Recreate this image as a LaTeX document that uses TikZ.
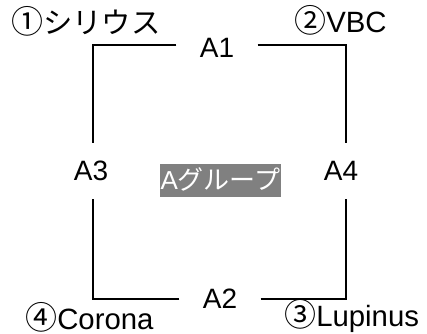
\documentclass[tikz,border=0pt]{standalone}
\usepackage{fontspec}
\setmainfont{Liberation Sans}
\newfontfamily\cjk{Noto Sans CJK JP}
\definecolor{grpgray}{RGB}{128,128,128}
\newcommand{\circnum}[1]{{\cjk\fontsize{24}{26}\selectfont #1}}
\begin{document}
\begin{tikzpicture}[x=0.75pt,y=-0.75pt,
  edge/.style={draw=black,line width=1.6pt},
  lab/.style={font=\fontsize{21}{25}\selectfont,inner xsep=17.5pt,inner ysep=13pt,text height=15pt,text depth=0pt},
  corner/.style={font=\fontsize{22}{25}\selectfont,inner sep=0pt,anchor=base west},
  grp/.style={fill=grpgray,text=white,font=\fontsize{19.5}{22}\selectfont,inner sep=0pt,minimum width=90.75pt,minimum height=24.75pt,text height=13pt,text depth=0pt}]
\useasboundingbox (0,0) rectangle (427,334);
\coordinate (c1) at (93,45);
\coordinate (c2) at (346,45);
\coordinate (c3) at (93,299);
\coordinate (c4) at (346,299);
\node[lab] (A1) at (217,48) {A1};
\node[lab] (A2) at (220,298) {A2};
\node[lab] (A3) at (91,171) {A3};
\node[lab] (A4) at (341,171) {A4};
\node[grp] (G) at (220.5,180.5) {A{\cjk グループ}};
\node[corner] (L1) at (11,34) {\circnum{①}{\cjk シリウス}};
\node[corner] (L2) at (294,33) {\circnum{②}VBC};
\node[corner] (L3) at (284,326) {\circnum{③}Lupinus};
\node[corner] (L4) at (25,329) {\circnum{④}Corona};
\draw[edge] (A1.west |- c1) -- (c1) -- (c1 |- A3.north);
\draw[edge] (A1.east |- c2) -- (c2) -- (c2 |- A4.north);
\draw[edge] (A2.west |- c3) -- (c3) -- (c3 |- A3.south);
\draw[edge] (A2.east |- c4) -- (c4) -- (c4 |- A4.south);
\end{tikzpicture}
\end{document}
